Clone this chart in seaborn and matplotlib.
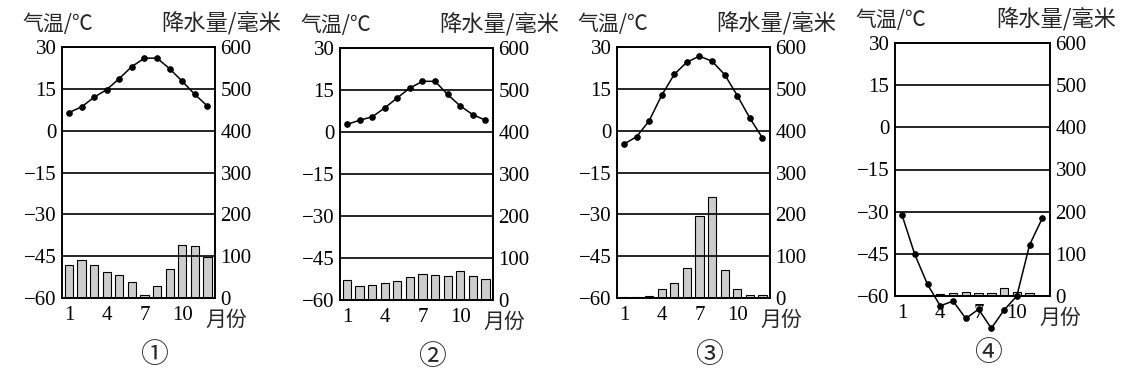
import matplotlib
matplotlib.use("Agg")
import matplotlib.pyplot as plt
import seaborn as sns

months = list(range(1, 13))
month_ticks = [1, 4, 7, 10]
month_labels = ["1", "4", "7", "10"]
temp_ticks = [-60, -45, -30, -15, 0, 15, 30]
prec_ticks = [0, 100, 200, 300, 400, 500, 600]
panel_names = ["①", "②", "③", "④"]

# temperature (°C) and precipitation (mm) per month for each station
temp1 = [6.5, 8.5, 12.0, 14.7, 18.7, 23.0, 26.0, 26.0, 22.2, 17.7, 13.0, 8.8]
prec1 = [78, 90, 79, 63, 56, 38, 8, 28, 69, 127, 125, 97]
temp2 = [2.7, 4.2, 5.4, 8.6, 12.2, 15.7, 18.1, 18.1, 13.4, 9.3, 6.2, 4.2]
prec2 = [48, 34, 36, 41, 45, 54, 63, 59, 56, 70, 56, 49]
temp3 = [-4.8, -2.2, 3.5, 12.7, 20.2, 24.6, 26.7, 24.9, 20.1, 12.6, 4.5, -2.6]
prec3 = [2, 2, 4, 21, 36, 71, 195, 242, 66, 21, 8, 6]
temp4 = [-31.2, -45.2, -55.9, -63.5, -61.8, -68.0, -64.7, -71.5, -65.0, -60.0, -41.8, -32.3]
prec4 = [0, 0, 0, 5, 7, 9, 7, 7, 20, 9, 6, 0]

temps = [temp1, temp2, temp3, temp4]
precs = [prec1, prec2, prec3, prec4]

sns.set_theme(style="white")
plt.rcParams['font.family'] = ['Liberation Serif', 'Noto Sans CJK SC', 'DejaVu Sans']
plt.rcParams['axes.unicode_minus'] = True

fig = plt.figure(figsize=(11.44, 3.83), dpi=100)

# axes boxes in pixels: left, top, right, bottom
boxes = [(62, 47, 215, 298), (340, 48, 493, 300), (617, 47, 770, 298), (895, 43, 1050, 296)]
W, H = 1144, 383

for i in range(4):
    l, t, r, b = boxes[i]
    ax = fig.add_axes([l / W, 1 - b / H, (r - l) / W, (b - t) / H])
    ax2 = ax.twinx()

    sns.barplot(x=months, y=precs[i], ax=ax2, native_scale=True, width=0.66,
                color="#cdcdcd", saturation=1, edgecolor="black", linewidth=0.8,
                errorbar=None)
    sns.lineplot(x=months, y=temps[i], ax=ax, color="black", lw=1.1, marker="o",
                 markersize=4, markeredgecolor="black", clip_on=False)

    ax.set_zorder(ax2.get_zorder() + 1)
    ax.patch.set_visible(False)

    ax.set_xlim(0.45, 12.6)
    ax2.set_xlim(0.45, 12.6)
    ax.set_ylim(-60, 30)
    ax2.set_ylim(0, 600)
    ax.set_yticks(temp_ticks)
    ax2.set_yticks(prec_ticks)
    ax.set_xticks(month_ticks)
    ax.set_xticklabels(month_labels)
    ax.set_xlabel("")
    ax.set_ylabel("")
    ax2.set_xlabel("")
    ax2.set_ylabel("")

    ax.grid(axis="y", color="black", lw=1.2)
    ax.grid(axis="x", visible=False)
    ax2.grid(False)

    ax.tick_params(axis="y", length=0, labelsize=15, pad=4, colors="black")
    ax.tick_params(axis="x", length=0, labelsize=15, pad=6, colors="black")
    ax2.tick_params(axis="y", length=0, labelsize=15, pad=4, colors="black")
    for a in (ax, ax2):
        for s in a.spines.values():
            s.set_color("black")
            s.set_linewidth(1.2)

    w = r - l
    hgt = b - t
    ax.text(-40 / w, 1 + 23 / hgt, "气温/℃", transform=ax.transAxes,
            ha="left", va="center", fontsize=15, family=['Noto Sans CJK SC'])
    ax.text(1 + 66 / w, 1 + 23 / hgt, "降水量/毫米", transform=ax.transAxes,
            ha="right", va="center", fontsize=16, family=['Noto Sans CJK SC'])
    ax.text(11.8, -60 - 22 * 90 / hgt, "月份", ha="left", va="center",
            fontsize=15, family=['Noto Sans CJK SC'], clip_on=False)
    ax.text(0.5 + 15 / w, -(57 / hgt), panel_names[i], transform=ax.transAxes,
            ha="center", va="center", fontsize=20, family=['Noto Sans CJK SC'])

fig.savefig("out.png", dpi=100)
